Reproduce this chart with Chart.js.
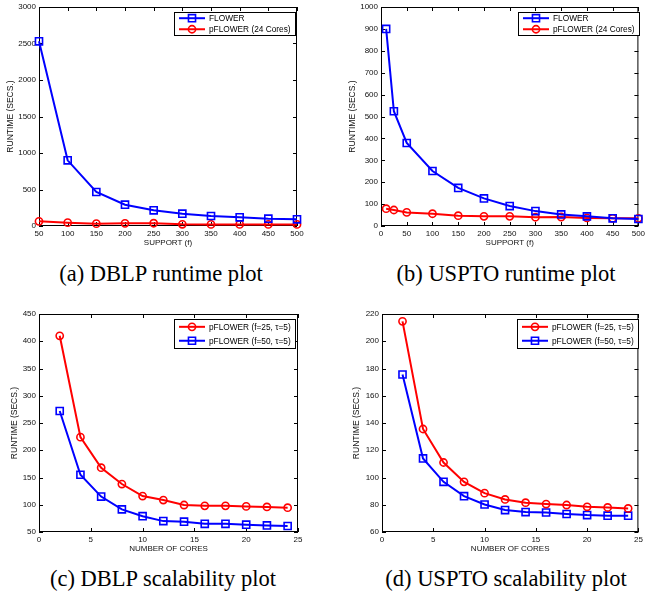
<!DOCTYPE html>
<html>
<head>
<meta charset="utf-8">
<script src="https://cdn.jsdelivr.net/npm/chart.js@4.4.0/dist/chart.umd.min.js"></script>
<style>
  html, body { margin: 0; padding: 0; background: #fff; overflow: hidden; }
  body { width: 645px; height: 600px; position: relative; }
  canvas { position: absolute; }
  .cap {
    position: absolute; width: 300px; text-align: center; white-space: nowrap;
    font-family: "Liberation Serif", "Times New Roman", serif; font-size: 22.5px; line-height: 23px; color: #000;
  }
</style>
</head>
<body>
<canvas id="dblpRuntime" width="322" height="250" style="left:0;top:0"></canvas>
<canvas id="usptoRuntime" width="323" height="250" style="left:322px;top:0"></canvas>
<canvas id="dblpScale" width="322" height="249" style="left:0;top:307px"></canvas>
<canvas id="usptoScale" width="323" height="249" style="left:322px;top:307px"></canvas>
<div class="cap" style="left:11px;top:262px">(a) DBLP runtime plot</div>
<div class="cap" style="left:356px;top:262px">(b) USPTO runtime plot</div>
<div class="cap" style="left:13px;top:567px">(c) DBLP scalability plot</div>
<div class="cap" style="left:356px;top:567px">(d) USPTO scalability plot</div>
<script>
// runtime vs support
const supportDblp = [50, 100, 150, 200, 250, 300, 350, 400, 450, 500];
const flowerDblp = [2530, 900, 466, 292, 215, 169, 137, 119, 100, 91];
const pflowerDblp = [64, 46, 32, 36, 38, 23, 22, 22, 22, 22];

const supportUspto = [10, 25, 50, 100, 150, 200, 250, 300, 350, 400, 450, 500];
const flowerUspto = [900, 524, 379, 251, 174, 126, 91, 68, 53, 44, 35, 32];
const pflowerUspto = [79, 73, 62, 56, 47, 44, 44, 40, 41, 37, 35, 35];

// runtime vs number of cores
const cores = [2, 4, 6, 8, 10, 12, 14, 16, 18, 20, 22, 24];
const dblpF25 = [410, 224, 168, 138, 116, 108.6, 99.5, 98, 98, 97, 96, 94.6];
const dblpF50 = [272, 155, 115, 91.5, 79, 70, 69, 65, 65, 63.4, 62, 61];
const usptoF25 = [214.6, 135.6, 111, 96.8, 88.5, 83.9, 81.5, 80.5, 79.8, 78.5, 78, 77.3];
const usptoF50 = [175.6, 114, 96.8, 86.3, 80.2, 76.1, 74.6, 74.3, 73.2, 72.4, 72, 72];

// tick labels
const supportTicksDblp = [50, 100, 150, 200, 250, 300, 350, 400, 450, 500];
const supportTicksUspto = [0, 50, 100, 150, 200, 250, 300, 350, 400, 450, 500];
const coreTicks = [0, 5, 10, 15, 20, 25];
const runtimeTicksDblp = [0, 500, 1000, 1500, 2000, 2500, 3000];
const runtimeTicksUspto = [0, 100, 200, 300, 400, 500, 600, 700, 800, 900, 1000];
const scaleTicksDblp = [50, 100, 150, 200, 250, 300, 350, 400, 450];
const scaleTicksUspto = [60, 80, 100, 120, 140, 160, 180, 200, 220];

const BLUE = "#0000ff";
const RED = "#ff0000";
const FONT = '"Liberation Sans", Arial, sans-serif';

// box around the plot with inward ticks on all four sides
const frame = {
  id: "frame",
  beforeDatasetsDraw(chart) {
    const { ctx, chartArea: a, scales } = chart;
    ctx.save();
    ctx.strokeStyle = "#000";
    ctx.lineWidth = 1;
    ctx.strokeRect(a.left + 0.5, a.top + 0.5, a.right - a.left - 1, a.bottom - a.top - 1);
    ctx.beginPath();
    scales.x.ticks.forEach((t) => {
      const px = Math.round(scales.x.getPixelForValue(t.value)) + 0.5;
      ctx.moveTo(px, a.bottom); ctx.lineTo(px, a.bottom - 4);
      ctx.moveTo(px, a.top); ctx.lineTo(px, a.top + 4);
    });
    scales.y.ticks.forEach((t) => {
      const py = Math.round(scales.y.getPixelForValue(t.value)) + 0.5;
      ctx.moveTo(a.left, py); ctx.lineTo(a.left + 4, py);
      ctx.moveTo(a.right, py); ctx.lineTo(a.right - 4, py);
    });
    ctx.stroke();
    ctx.restore();
  },
};

function marker(ctx, style, r, x, y) {
  ctx.beginPath();
  if (style === "rect") {
    const s = r * Math.SQRT1_2;
    ctx.rect(x - s, y - s, 2 * s, 2 * s);
  } else {
    ctx.arc(x, y, r, 0, Math.PI * 2);
  }
  ctx.stroke();
}

// matlab-like legend box in the top right corner
const boxLegend = {
  id: "boxLegend",
  afterDatasetsDraw(chart, args, opts) {
    const { ctx, chartArea: a } = chart;
    const sets = chart.data.datasets;
    ctx.save();
    ctx.font = "8.3px " + FONT;
    const textW = Math.max(...sets.map((d) => ctx.measureText(d.label).width));
    const w = Math.round(5 + 26 + 4 + textW + 4);
    const h = opts.height;
    const left = Math.round(a.right - opts.inset - w);
    const top = Math.round(a.top + 5);
    ctx.fillStyle = "#fff";
    ctx.fillRect(left, top, w, h);
    ctx.strokeStyle = "#000";
    ctx.lineWidth = 1;
    ctx.strokeRect(left + 0.5, top + 0.5, w, h);
    sets.forEach((d, i) => {
      const cy = top + h * (i === 0 ? 0.27 : 0.75);
      ctx.strokeStyle = d.borderColor;
      ctx.lineWidth = 2;
      ctx.beginPath();
      ctx.moveTo(left + 5, cy);
      ctx.lineTo(left + 31, cy);
      ctx.stroke();
      ctx.lineWidth = d.pointBorderWidth;
      marker(ctx, d.pointStyle, d.pointRadius, left + 18, cy);
      ctx.fillStyle = "#000";
      ctx.textBaseline = "middle";
      ctx.textAlign = "left";
      ctx.fillText(d.label, left + 35, cy + 0.5);
    });
    ctx.restore();
  },
};

function series(label, xs, ys, color, style) {
  return {
    label: label,
    data: xs.map((x, i) => ({ x: x, y: ys[i] })),
    borderColor: color,
    backgroundColor: "transparent",
    borderWidth: 2,
    pointStyle: style,
    pointRadius: style === "rect" ? 5 : 3.6,
    pointBorderWidth: 1.6,
    pointBorderColor: color,
    pointBackgroundColor: "transparent",
    tension: 0,
    clip: false,
  };
}

function axis(ticks, title, isX, titlePad, size) {
  return {
    type: "linear",
    min: ticks[0],
    max: ticks[ticks.length - 1],
    grid: { display: false, drawTicks: false },
    border: { display: false },
    ticks: {
      autoSkip: false,
      maxRotation: 0,
      padding: 3,
      color: "#111",
      font: { family: FONT, size: 8 },
      callback: (v) => String(v),
    },
    title: {
      display: true,
      text: title,
      color: "#111",
      font: { family: FONT, size: isX ? 8 : 8.5, lineHeight: 1 },
      padding: isX ? { top: 0, bottom: titlePad } : { top: titlePad, bottom: 0 },
    },
    afterBuildTicks: (s) => { s.ticks = ticks.map((v) => ({ value: v })); },
    afterFit: (s) => {
      if (isX) s.height = size; else s.width = size;
      s.paddingLeft = 0; s.paddingRight = 0; s.paddingTop = 0; s.paddingBottom = 0;
    },
  };
}

function build(id, datasets, xTicks, xTitle, yTicks, pad, yTitlePad, legendInset, legendH) {
  new Chart(document.getElementById(id), {
    type: "line",
    data: { datasets: datasets },
    options: {
      responsive: false,
      animation: false,
      devicePixelRatio: 1,
      layout: { padding: pad },
      plugins: {
        legend: { display: false },
        tooltip: { enabled: false },
        boxLegend: { inset: legendInset, height: legendH },
      },
      scales: {
        x: axis(xTicks, xTitle, true, 3, 24),
        y: axis(yTicks, "RUNTIME (SECS.)", false, yTitlePad, 39),
      },
    },
    plugins: [frame, boxLegend],
  });
}

build("dblpRuntime",
  [series("FLOWER", supportDblp, flowerDblp, BLUE, "rect"),
   series("pFLOWER (24 Cores)", supportDblp, pflowerDblp, RED, "circle")],
  supportTicksDblp, "SUPPORT (f)", runtimeTicksDblp,
  { left: 0, top: 7, right: 25, bottom: 0 }, 6, 2, 23);

build("usptoRuntime",
  [series("FLOWER", supportUspto, flowerUspto, BLUE, "rect"),
   series("pFLOWER (24 Cores)", supportUspto, pflowerUspto, RED, "circle")],
  supportTicksUspto, "SUPPORT (f)", runtimeTicksUspto,
  { left: 20, top: 7, right: 3, bottom: 0 }, 6.5, -1, 23);

build("dblpScale",
  [series("pFLOWER (f=25, \u03c4=5)", cores, dblpF25, RED, "circle"),
   series("pFLOWER (f=50, \u03c4=5)", cores, dblpF50, BLUE, "rect")],
  coreTicks, "NUMBER OF CORES", scaleTicksDblp,
  { left: 0, top: 7, right: 24, bottom: 0 }, 10, 3, 29);

build("usptoScale",
  [series("pFLOWER (f=25, \u03c4=5)", cores, usptoF25, RED, "circle"),
   series("pFLOWER (f=50, \u03c4=5)", cores, usptoF50, BLUE, "rect")],
  coreTicks, "NUMBER OF CORES", scaleTicksUspto,
  { left: 21, top: 7, right: 3, bottom: 0 }, 9.7, 0, 29);
</script>
</body>
</html>
